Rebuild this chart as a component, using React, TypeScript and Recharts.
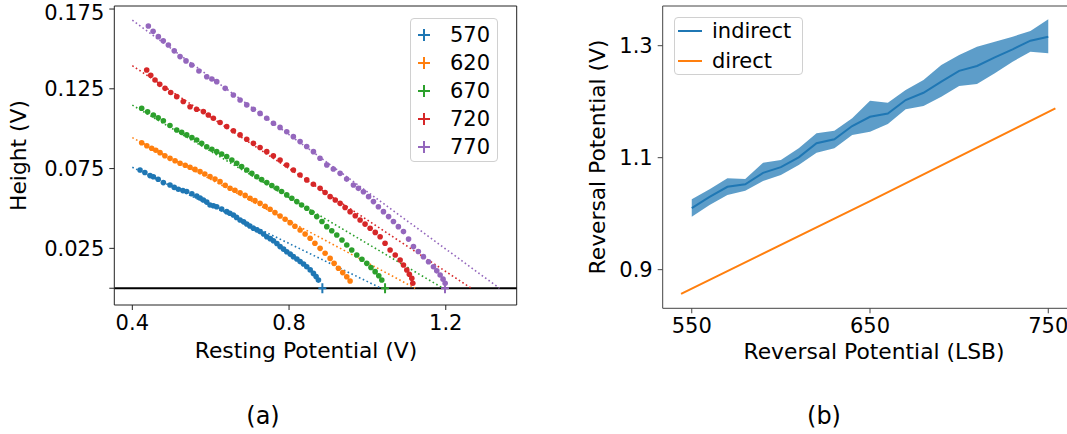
import React from 'react';
import { ComposedChart, Scatter, Line, Area, XAxis, YAxis, ReferenceLine, Label } from 'recharts';

// ---------- Panel (a): Height vs Resting Potential ----------
const seriesLabels = ['570', '620', '670', '720', '770'];
const seriesColors = ['#1f77b4', '#ff7f0e', '#2ca02c', '#d62728', '#9467bd'];

const dots570: [number, number][] = [
  [0.4197, 0.0741], [0.4320, 0.0725], [0.4452, 0.0706], [0.4537, 0.0699], [0.4660, 0.0683],
  [0.4792, 0.0662], [0.4962, 0.0647], [0.5070, 0.0632], [0.5175, 0.0620], [0.5290, 0.0612],
  [0.5388, 0.0606], [0.5520, 0.0592], [0.5643, 0.0578], [0.5730, 0.0566], [0.5813, 0.0553],
  [0.5900, 0.0540], [0.5983, 0.0522], [0.6070, 0.0517], [0.6154, 0.0511], [0.6280, 0.0496],
  [0.6409, 0.0480], [0.6490, 0.0470], [0.6579, 0.0459], [0.6660, 0.0444], [0.6750, 0.0428],
  [0.6840, 0.0416], [0.6920, 0.0403], [0.7000, 0.0390], [0.7090, 0.0376], [0.7180, 0.0366],
  [0.7260, 0.0355], [0.7350, 0.0340], [0.7431, 0.0323], [0.7520, 0.0311], [0.7601, 0.0298],
  [0.7690, 0.0280], [0.7771, 0.0261], [0.7860, 0.0245], [0.7941, 0.0229], [0.8030, 0.0214],
  [0.8111, 0.0198], [0.8200, 0.0183], [0.8282, 0.0167], [0.8370, 0.0152], [0.8452, 0.0135],
  [0.8540, 0.0115], [0.8622, 0.0093], [0.8690, 0.0073], [0.8750, 0.0051],
];
const dots620: [number, number][] = [
  [0.4239, 0.0912], [0.4370, 0.0893], [0.4494, 0.0877], [0.4600, 0.0865], [0.4707, 0.0850],
  [0.4830, 0.0830], [0.4962, 0.0814], [0.5090, 0.0799], [0.5218, 0.0783], [0.5350, 0.0771],
  [0.5473, 0.0758], [0.5600, 0.0745], [0.5728, 0.0731], [0.5850, 0.0716], [0.5983, 0.0700],
  [0.6110, 0.0684], [0.6239, 0.0668], [0.6370, 0.0646], [0.6494, 0.0627], [0.6620, 0.0614],
  [0.6750, 0.0599], [0.6880, 0.0582], [0.7005, 0.0564], [0.7130, 0.0549], [0.7260, 0.0532],
  [0.7390, 0.0514], [0.7516, 0.0495], [0.7640, 0.0474], [0.7771, 0.0453], [0.7900, 0.0432],
  [0.8026, 0.0411], [0.8150, 0.0389], [0.8282, 0.0365], [0.8410, 0.0340], [0.8537, 0.0313],
  [0.8660, 0.0282], [0.8792, 0.0250], [0.8920, 0.0219], [0.9048, 0.0187], [0.9150, 0.0156],
  [0.9260, 0.0125], [0.9370, 0.0098], [0.9473, 0.0072], [0.9558, 0.0045],
];
const dots670: [number, number][] = [
  [0.4239, 0.1128], [0.4390, 0.1106], [0.4537, 0.1086], [0.4660, 0.1068], [0.4792, 0.1050],
  [0.4960, 0.1020], [0.5133, 0.0992], [0.5260, 0.0977], [0.5388, 0.0961], [0.5520, 0.0945],
  [0.5643, 0.0929], [0.5770, 0.0908], [0.5899, 0.0887], [0.6030, 0.0871], [0.6154, 0.0856],
  [0.6280, 0.0841], [0.6409, 0.0825], [0.6540, 0.0804], [0.6665, 0.0783], [0.6790, 0.0762],
  [0.6920, 0.0741], [0.7050, 0.0720], [0.7175, 0.0699], [0.7300, 0.0681], [0.7431, 0.0662],
  [0.7560, 0.0644], [0.7686, 0.0626], [0.7810, 0.0606], [0.7941, 0.0585], [0.8070, 0.0564],
  [0.8197, 0.0543], [0.8320, 0.0522], [0.8452, 0.0501], [0.8580, 0.0476], [0.8707, 0.0449],
  [0.8840, 0.0418], [0.8963, 0.0386], [0.9090, 0.0360], [0.9218, 0.0334], [0.9350, 0.0302],
  [0.9473, 0.0271], [0.9600, 0.0240], [0.9728, 0.0208], [0.9860, 0.0182], [0.9984, 0.0156],
  [1.0090, 0.0130], [1.0197, 0.0104], [1.0290, 0.0078], [1.0367, 0.0052],
];
const dots720: [number, number][] = [
  [0.4367, 0.1368], [0.4470, 0.1335], [0.4579, 0.1305], [0.4700, 0.1278], [0.4835, 0.1253],
  [0.4980, 0.1227], [0.5133, 0.1201], [0.5300, 0.1170], [0.5473, 0.1138], [0.5640, 0.1122],
  [0.5813, 0.1107], [0.5940, 0.1086], [0.6069, 0.1065], [0.6240, 0.1039], [0.6409, 0.1013],
  [0.6580, 0.0987], [0.6750, 0.0961], [0.6920, 0.0934], [0.7090, 0.0908], [0.7260, 0.0882],
  [0.7431, 0.0856], [0.7600, 0.0830], [0.7771, 0.0804], [0.7940, 0.0772], [0.8111, 0.0741],
  [0.8280, 0.0710], [0.8452, 0.0679], [0.8620, 0.0652], [0.8792, 0.0626], [0.8920, 0.0600],
  [0.9048, 0.0574], [0.9180, 0.0553], [0.9303, 0.0532], [0.9430, 0.0506], [0.9558, 0.0480],
  [0.9690, 0.0454], [0.9813, 0.0428], [0.9940, 0.0402], [1.0069, 0.0376], [1.0200, 0.0350],
  [1.0324, 0.0323], [1.0450, 0.0282], [1.0579, 0.0240], [1.0710, 0.0208], [1.0835, 0.0177],
  [1.0920, 0.0146], [1.1005, 0.0114], [1.1070, 0.0088], [1.1133, 0.0062], [1.1158, 0.0031],
];
const dots770: [number, number][] = [
  [0.4409, 0.1644], [0.4530, 0.1610], [0.4664, 0.1577], [0.4790, 0.1551], [0.4920, 0.1525],
  [0.5070, 0.1488], [0.5218, 0.1452], [0.5370, 0.1425], [0.5516, 0.1399], [0.5700, 0.1362],
  [0.5899, 0.1326], [0.6030, 0.1311], [0.6154, 0.1295], [0.6370, 0.1253], [0.6579, 0.1211],
  [0.6750, 0.1180], [0.6920, 0.1149], [0.7090, 0.1122], [0.7260, 0.1096], [0.7430, 0.1065],
  [0.7601, 0.1034], [0.7770, 0.1008], [0.7941, 0.0981], [0.8110, 0.0950], [0.8282, 0.0919],
  [0.8450, 0.0888], [0.8622, 0.0856], [0.8790, 0.0815], [0.8963, 0.0773], [0.9130, 0.0747],
  [0.9303, 0.0720], [0.9470, 0.0684], [0.9643, 0.0647], [0.9770, 0.0626], [0.9898, 0.0605],
  [1.0030, 0.0574], [1.0154, 0.0543], [1.0280, 0.0511], [1.0409, 0.0480], [1.0540, 0.0449],
  [1.0664, 0.0418], [1.0790, 0.0386], [1.0920, 0.0355], [1.1050, 0.0308], [1.1175, 0.0261],
  [1.1300, 0.0230], [1.1430, 0.0198], [1.1560, 0.0166], [1.1686, 0.0135], [1.1770, 0.0109],
  [1.1856, 0.0083], [1.1930, 0.0057], [1.1984, 0.0031],
];

// linear fits: height at 0.4 V and zero crossing
const fitStartX = 0.4;
const fitStartHeight = [0.0758, 0.0944, 0.1148, 0.1395, 0.168];
const fitZeroX = [1.035, 1.122, 1.193, 1.265, 1.337];
// measured crossing markers (+)
const crossingX: (number | null)[] = [0.885, null, 1.045, null, 1.198];

const xTicksA = [0.4, 0.8, 1.2];
const yTicksA = [0, 0.025, 0.075, 0.125, 0.175];

// ---------- Panel (b): Reversal potential ----------
const lsb = [550, 560, 570, 580, 590, 600, 610, 620, 630, 640, 650, 660, 670, 680, 690, 700, 710, 720, 730, 740, 750];
const indirectMean = [1.010, 1.030, 1.048, 1.0525, 1.073, 1.083, 1.1007, 1.1257, 1.133, 1.1566, 1.173, 1.179, 1.203, 1.216, 1.2357, 1.255, 1.2637, 1.279, 1.2935, 1.309, 1.316];
const indirectUpper = [1.0257, 1.0435, 1.0632, 1.0620, 1.0911, 1.0959, 1.1167, 1.1435, 1.1483, 1.1703, 1.2018, 1.1983, 1.2209, 1.2387, 1.2655, 1.2834, 1.2983, 1.3072, 1.3161, 1.3262, 1.3471];
const indirectLower = [0.9947, 1.0155, 1.0334, 1.0411, 1.0584, 1.0691, 1.0870, 1.1090, 1.1167, 1.1405, 1.1465, 1.1602, 1.1864, 1.1924, 1.2090, 1.2280, 1.2316, 1.2507, 1.2715, 1.2893, 1.2864];
const directLsb = [544, 650, 754];
const directV = [0.8566, 1.0225, 1.188];

const xTicksB = [550, 650, 750];
const yTicksB = [0.9, 1.1, 1.3];

// ---------- derived ----------
const dotSets = [dots570, dots620, dots670, dots720, dots770].map((s) => s.map(([x, y]) => ({ x, y })));
const fitSets = fitStartHeight.map((h, i) => [
  { x: fitStartX, y: h },
  { x: fitZeroX[i], y: 0 },
]);
const bandData = lsb.map((v, i) => ({ lsb: v, mean: indirectMean[i], band: [indirectLower[i], indirectUpper[i]] }));
const directData = directLsb.map((v, i) => ({ lsb: v, direct: directV[i] }));

const FONT = "'DejaVu Sans', sans-serif";
const FS = 21;
const FL = 21.8;

const Dot = (color: string) => (p: any) => <circle cx={p.cx} cy={p.cy} r={2.8} fill={color} />;
const Plus = (color: string) => (p: any) => (
  <g stroke={color} strokeWidth={2}>
    <line x1={p.cx - 4} x2={p.cx + 4} y1={p.cy} y2={p.cy} />
    <line x1={p.cx} x2={p.cx} y1={p.cy - 5} y2={p.cy + 5} />
  </g>
);

const TextAt = (x: number, y: number, txt: string, size = FL, rotate = false) => () => (
  <text
    x={x}
    y={y}
    textAnchor="middle"
    dominantBaseline={rotate ? 'central' : 'alphabetic'}
    transform={rotate ? `rotate(-90, ${x}, ${y})` : undefined}
    fontSize={size}
    fill="#000"
    fontFamily={FONT}
  >
    {txt}
  </text>
);

const xDomA: [number, number] = [0.354, 1.381];
const yDomA: [number, number] = [-0.0105, 0.1769];
const xDomB: [number, number] = [533.7, 767.8];
const yDomB: [number, number] = [0.831, 1.3709];

export default function App() {
  return (
    <div style={{ position: 'absolute', left: 0, top: 0, width: 1067, height: 434, overflow: 'hidden', background: '#fff', fontFamily: FONT }}>
      {/* Panel (a) */}
      <div style={{ position: 'absolute', left: 0, top: 0 }}>
        <ComposedChart width={540} height={434} margin={{ top: 6, right: 23.3, bottom: 0, left: 0 }}>
          <XAxis
            type="number"
            dataKey="x"
            domain={xDomA}
            allowDataOverflow
            ticks={xTicksA}
            tickFormatter={(v: number) => v.toFixed(1)}
            height={129}
            tickSize={5}
            tickMargin={5}
            tick={{ fontSize: FS, fill: '#000' }}
            stroke="#222"
          >
            <Label content={TextAt(306, 358, 'Resting Potential (V)')} />
            <Label content={TextAt(263, 423.5, '(a)', 24)} />
          </XAxis>
          <YAxis
            type="number"
            dataKey="y"
            domain={yDomA}
            allowDataOverflow
            ticks={yTicksA}
            tickFormatter={(v: number) => (v === 0 ? '' : v.toFixed(3))}
            width={114.3}
            tickSize={5}
            tickMargin={5}
            tick={{ fontSize: FS, fill: '#000' }}
            stroke="#222"
          >
            <Label content={TextAt(18, 155.5, 'Height (V)', FL, true)} />
          </YAxis>
          <ReferenceLine y={yDomA[1]} stroke="#222" strokeWidth={1} />
          <ReferenceLine x={xDomA[1]} stroke="#222" strokeWidth={1} />
          <ReferenceLine y={0} stroke="#000" strokeWidth={1.8} />
          {fitSets.map((d, i) => (
            <Line
              key={'fit' + i}
              data={d}
              dataKey="y"
              stroke={seriesColors[i]}
              strokeWidth={1.6}
              strokeDasharray="1.6 2.6"
              dot={false}
              activeDot={false}
              isAnimationActive={false}
            />
          ))}
          {dotSets.map((d, i) => (
            <Scatter key={'dots' + i} data={d} dataKey="y" shape={Dot(seriesColors[i])} isAnimationActive={false} />
          ))}
          {crossingX.map((cx, i) =>
            cx === null ? null : (
              <Scatter
                key={'cross' + i}
                data={[{ x: cx, y: 0 }]}
                dataKey="y"
                shape={Plus(seriesColors[i])}
                isAnimationActive={false}
              />
            )
          )}
        </ComposedChart>
      </div>

      {/* Legend (a) */}
      <div
        style={{
          position: 'absolute',
          left: 410,
          top: 18,
          width: 88,
          height: 144,
          boxSizing: 'border-box',
          border: '1px solid #d0d0d0',
          borderRadius: 4,
          background: 'rgba(255,255,255,0.8)',
        }}
      >
        {seriesLabels.map((lab, i) => (
          <div key={lab} style={{ position: 'absolute', left: 0, top: 2 + i * 28, height: 28, width: 86 }}>
            <svg width={20} height={28} style={{ position: 'absolute', left: 3, top: 0 }}>
              <line x1={4} x2={16} y1={14} y2={14} stroke={seriesColors[i]} strokeWidth={2} />
              <line x1={10} x2={10} y1={8} y2={20} stroke={seriesColors[i]} strokeWidth={2} />
            </svg>
            <span style={{ position: 'absolute', left: 39, top: 0, lineHeight: '28px', fontSize: FS, color: '#000' }}>{lab}</span>
          </div>
        ))}
      </div>

      {/* Panel (b) */}
      <div style={{ position: 'absolute', left: 530, top: 0 }}>
        <ComposedChart width={560} height={434} data={bandData} margin={{ top: 6, right: 10, bottom: 0, left: 0 }}>
          <XAxis
            type="number"
            dataKey="lsb"
            domain={xDomB}
            allowDataOverflow
            ticks={xTicksB}
            height={125.7}
            tickSize={5}
            tickMargin={5}
            tick={{ fontSize: FS, fill: '#000' }}
            stroke="#444"
          >
            <Label content={TextAt(344, 359, 'Reversal Potential (LSB)')} />
            <Label content={TextAt(294, 423.5, '(b)', 24)} />
          </XAxis>
          <YAxis
            type="number"
            domain={yDomB}
            allowDataOverflow
            ticks={yTicksB}
            tickFormatter={(v: number) => v.toFixed(1)}
            width={132.7}
            tickSize={5}
            tickMargin={5}
            tick={{ fontSize: FS, fill: '#000' }}
            stroke="#444"
          >
            <Label content={TextAt(67, 157, 'Reversal Potential (V)', FL, true)} />
          </YAxis>
          <ReferenceLine y={yDomB[1]} stroke="#444" strokeWidth={1} />
          <Area
            dataKey="band"
            stroke="none"
            fill="#1f77b4"
            fillOpacity={0.72}
            isAnimationActive={false}
            activeDot={false}
          />
          <Line dataKey="mean" stroke="#1f77b4" strokeWidth={2} dot={false} activeDot={false} isAnimationActive={false} />
          <Line
            data={directData}
            dataKey="direct"
            stroke="#ff7f0e"
            strokeWidth={2}
            dot={false}
            activeDot={false}
            isAnimationActive={false}
          />
        </ComposedChart>
      </div>

      {/* Legend (b) */}
      <div
        style={{
          position: 'absolute',
          left: 674,
          top: 17,
          width: 129,
          height: 58,
          boxSizing: 'border-box',
          border: '1px solid #d0d0d0',
          borderRadius: 4,
          background: 'rgba(255,255,255,0.8)',
        }}
      >
        {[
          { name: 'indirect', color: '#1f77b4' },
          { name: 'direct', color: '#ff7f0e' },
        ].map((e, i) => (
          <div key={e.name} style={{ position: 'absolute', left: 0, top: -1 + i * 30, height: 28, width: 127 }}>
            <svg width={30} height={28} style={{ position: 'absolute', left: 3, top: 0 }}>
              <line x1={0} x2={24} y1={14} y2={14} stroke={e.color} strokeWidth={2} />
            </svg>
            <span style={{ position: 'absolute', left: 37, top: 0, lineHeight: '28px', fontSize: FS, color: '#000' }}>{e.name}</span>
          </div>
        ))}
      </div>
    </div>
  );
}
